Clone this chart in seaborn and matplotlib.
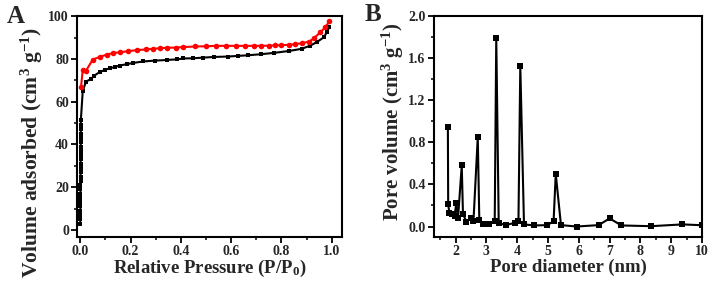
import numpy as np
import matplotlib
matplotlib.use("Agg")
import matplotlib.pyplot as plt
import seaborn as sns
from matplotlib.ticker import MultipleLocator

# isotherma: rama de adsorcion (negra) y desorcion (roja)
ads_p = [0.0001, 0.0002, 0.0003, 0.0004, 0.0005, 0.0006, 0.0007, 0.0008, 0.0009, 0.001,
         0.0011, 0.0012, 0.0013, 0.0014, 0.0015, 0.0016, 0.0017, 0.0018, 0.0019, 0.002,
         0.0021, 0.0022, 0.0023, 0.0024, 0.0025,
         0.01, 0.023, 0.043, 0.056, 0.077, 0.097, 0.117, 0.137, 0.157, 0.184, 0.21, 0.25,
         0.298, 0.345, 0.385, 0.41, 0.45, 0.49, 0.53, 0.587, 0.627, 0.667, 0.72, 0.77,
         0.83, 0.88, 0.915, 0.94, 0.97, 0.98, 0.99]
ads_v = [2.7, 5.0, 7.0, 9.0, 11.0, 13.0, 15.0, 17.0, 19.0, 21.0,
         23.0, 25.0, 27.0, 29.0, 31.0, 33.0, 35.0, 37.0, 39.0, 41.0,
         43.0, 45.0, 47.0, 49.0, 51.5,
         65.0, 69.4, 70.6, 72.2, 73.8, 74.8, 75.6, 76.2, 76.9, 77.5, 78.1, 78.8,
         79.2, 79.5, 79.8, 80.2, 80.3, 80.6, 80.9, 81.1, 81.4, 81.7, 82.2, 82.8,
         83.7, 84.7, 86.2, 87.8, 90.2, 92.5, 94.8]

des_p = [0.99, 0.975, 0.955, 0.93, 0.91, 0.88, 0.855, 0.83, 0.8, 0.775, 0.75, 0.72,
         0.69, 0.655, 0.62, 0.58, 0.54, 0.5, 0.455, 0.41, 0.38, 0.345, 0.318, 0.29,
         0.26, 0.225, 0.19, 0.157, 0.13, 0.105, 0.077, 0.05, 0.023, 0.01, 0.003]
des_v = [97.5, 94.8, 92.5, 89.7, 88.1, 87.3, 86.9, 86.6, 86.4, 86.3, 86.2, 86.1,
         86.1, 86.1, 86.1, 86.1, 86.1, 85.9, 85.8, 85.5, 85.3, 85.2, 85.0, 84.7,
         84.4, 84.1, 83.6, 83.1, 82.7, 82.0, 80.9, 79.7, 74.5, 74.8, 66.7]

# distribucion de tamaño de poro
poro_d = [1.75, 1.76, 1.8, 1.88, 1.97, 2.02, 2.08, 2.2, 2.24, 2.35, 2.5, 2.58, 2.72,
          2.77, 2.9, 3.1, 3.27, 3.32, 3.4, 3.62, 3.92, 4.04, 4.1, 4.22, 4.55, 4.98,
          5.18, 5.25, 5.42, 5.93, 6.64, 7.0, 7.38, 8.34, 9.36, 10.0]
poro_v = [0.95, 0.21, 0.13, 0.12, 0.10, 0.22, 0.08, 0.58, 0.12, 0.045, 0.08, 0.05, 0.85,
          0.06, 0.025, 0.025, 0.05, 1.79, 0.035, 0.013, 0.035, 0.05, 1.53, 0.02, 0.01, 0.013,
          0.05, 0.50, 0.013, 0.0, 0.013, 0.077, 0.01, 0.003, 0.02, 0.012]

sns.set_style("ticks")
plt.rcParams['font.family'] = ['Liberation Serif', 'DejaVu Serif']
plt.rcParams['font.weight'] = 'bold'
plt.rcParams['axes.labelweight'] = 'bold'
plt.rcParams['mathtext.fontset'] = 'custom'
plt.rcParams['mathtext.rm'] = 'Liberation Serif:bold'
plt.rcParams['mathtext.it'] = 'Liberation Serif:bold'
plt.rcParams['mathtext.bf'] = 'Liberation Serif:bold'

fig = plt.figure(figsize=(7.15, 2.88), dpi=100)
axA = fig.add_axes([0.108, 0.177, 0.370, 0.767])
axB = fig.add_axes([0.607, 0.177, 0.375, 0.767])

sns.lineplot(x=ads_p, y=ads_v, ax=axA, color='black', marker='s', markersize=3.5,
             markeredgewidth=0, linewidth=1.5, sort=False, estimator=None)
sns.lineplot(x=des_p, y=des_v, ax=axA, color='#ff0000', marker='o', markersize=4,
             markeredgewidth=0, linewidth=1.5, sort=False, estimator=None)
sns.lineplot(x=poro_d, y=poro_v, ax=axB, color='black', marker='s', markersize=5,
             markeredgewidth=0, linewidth=1.5, sort=False, estimator=None)

axA.set_xlim(-0.012, 1.04)
axA.set_ylim(-3.3, 100)
axA.xaxis.set_minor_locator(MultipleLocator(0.1))
axA.yaxis.set_major_locator(MultipleLocator(20))
axA.yaxis.set_minor_locator(MultipleLocator(10))
axA.set_xticks([0.0, 0.2, 0.4, 0.6, 0.8, 1.0])
axA.set_xticklabels(['0.0', '0.2', '0.4', '0.6', '0.8', '1.0'])
axA.set_xlabel('Relative Pressure (P/P$_0$)', fontsize=13.5, labelpad=0)
axA.set_ylabel('Volume adsorbed (cm$^3$ g$^{-1}$)', fontsize=15.5, labelpad=2)
axA.yaxis.label.set_y(0.385)

axB.set_xlim(1.3, 10)
axB.set_ylim(-0.1, 2.0)
axB.xaxis.set_minor_locator(MultipleLocator(0.5))
axB.yaxis.set_minor_locator(MultipleLocator(0.2))
axB.set_xticks(list(range(2, 11)))
axB.set_yticks([0.0, 0.4, 0.8, 1.2, 1.6, 2.0])
axB.set_yticklabels(['0.0', '0.4', '0.8', '1.2', '1.6', '2.0'])
axB.set_xlabel('Pore diameter (nm)', fontsize=13.5, labelpad=0)
axB.set_ylabel('Pore volume (cm$^3$ g$^{-1}$)', fontsize=15, labelpad=2)
axB.yaxis.label.set_y(0.52)

for ax in (axA, axB):
    for s in ax.spines.values():
        s.set_linewidth(1.5)
        s.set_color('black')
    ax.tick_params(which='major', direction='out', length=4, width=1.3,
                   labelsize=10, pad=2, color='black')
    ax.tick_params(which='minor', direction='out', length=2.5, width=1.1, color='black')
    for lab in ax.get_xticklabels() + ax.get_yticklabels():
        lab.set_fontweight('bold')

fig.text(0.022, 0.943, 'A', fontsize=18, fontweight='bold', ha='center', va='center')
fig.text(0.522, 0.948, 'B', fontsize=18, fontweight='bold', ha='center', va='center')

fig.savefig('out.png', dpi=100)
